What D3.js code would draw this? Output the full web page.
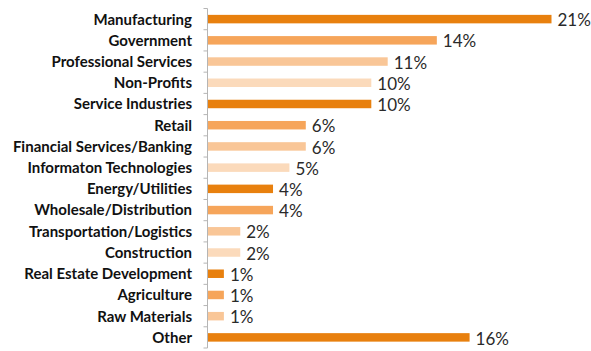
<!DOCTYPE html>
<html>
<head>
<meta charset="utf-8">
<script src="https://cdn.jsdelivr.net/npm/d3@7"></script>
<style>
  html, body { margin: 0; padding: 0; background: #fff; }
  svg { display: block; }
</style>
</head>
<body>
<svg id="chart" width="591" height="351"></svg>
<script>
// Industry breakdown (share of respondents, %)
const categories = [
  "Manufacturing", "Government", "Professional Services", "Non-Profits",
  "Service Industries", "Retail", "Financial Services/Banking",
  "Informaton Technologies", "Energy/Utilities", "Wholesale/Distribution",
  "Transportation/Logistics", "Construction", "Real Estate Development",
  "Agriculture", "Raw Materials", "Other"
];
const values = [21, 14, 11, 10, 10, 6, 6, 5, 4, 4, 2, 2, 1, 1, 1, 16];
// shade index per bar: 0 dark, 1 medium, 2 light, 3 lightest
const shades = [0, 1, 2, 3, 0, 1, 2, 3, 0, 1, 2, 3, 0, 1, 2, 0];
const palette = ["#E8800E", "#F6A55A", "#F9C697", "#FBDABB"];

const svg = d3.select("#chart");
const margin = { top: 8.5, left: 207.5, right: 40, bottom: 3 };
const width = 591, height = 351;

const x = d3.scaleLinear()
  .domain([0, 21])
  .range([margin.left, 551.5]);

const y = d3.scaleBand()
  .domain(categories)
  .range([margin.top, height - margin.bottom])
  .paddingInner(0.6)
  .paddingOuter(0.3);

// Bars
svg.append("g")
  .selectAll("rect")
  .data(categories)
  .join("rect")
  .attr("x", x(0) + 0.5)
  .attr("y", d => y(d))
  .attr("width", (d, i) => x(values[i]) - x(0) - 0.5)
  .attr("height", y.bandwidth())
  .attr("fill", (d, i) => palette[shades[i]]);

// Value labels
svg.append("g")
  .selectAll("text")
  .data(categories)
  .join("text")
  .attr("x", (d, i) => x(values[i]) + 6)
  .attr("y", d => y(d) + y.bandwidth() / 2 + 1)
  .attr("dy", "0.36em")
  .attr("font-family", "Lato, 'Open Sans', sans-serif")
  .attr("font-size", 17)
  .attr("fill", "#2a2a2a")
  .text((d, i) => values[i] + "%");

// Category axis with tick marks at band boundaries
const axis = svg.append("g");
const y0 = margin.top, y1 = height - margin.bottom;
axis.append("line")
  .attr("x1", margin.left).attr("x2", margin.left)
  .attr("y1", y0).attr("y2", y1)
  .attr("stroke", "#b5b5b5").attr("stroke-width", 1);

const boundaries = d3.range(categories.length + 1)
  .map(i => y0 + i * (y1 - y0) / categories.length);
axis.selectAll("line.tick")
  .data(boundaries)
  .join("line")
  .attr("class", "tick")
  .attr("x1", margin.left - 4).attr("x2", margin.left)
  .attr("y1", d => d).attr("y2", d => d)
  .attr("stroke", "#b5b5b5").attr("stroke-width", 1);

axis.selectAll("text")
  .data(categories)
  .join("text")
  .attr("x", 192)
  .attr("y", d => y(d) + y.bandwidth() / 2)
  .attr("dy", "0.36em")
  .attr("text-anchor", "end")
  .attr("font-family", "Lato, 'Open Sans', sans-serif")
  .attr("font-weight", "bold")
  .attr("font-size", 15)
  .attr("fill", "#111")
  .text(d => d);
</script>
</body>
</html>
